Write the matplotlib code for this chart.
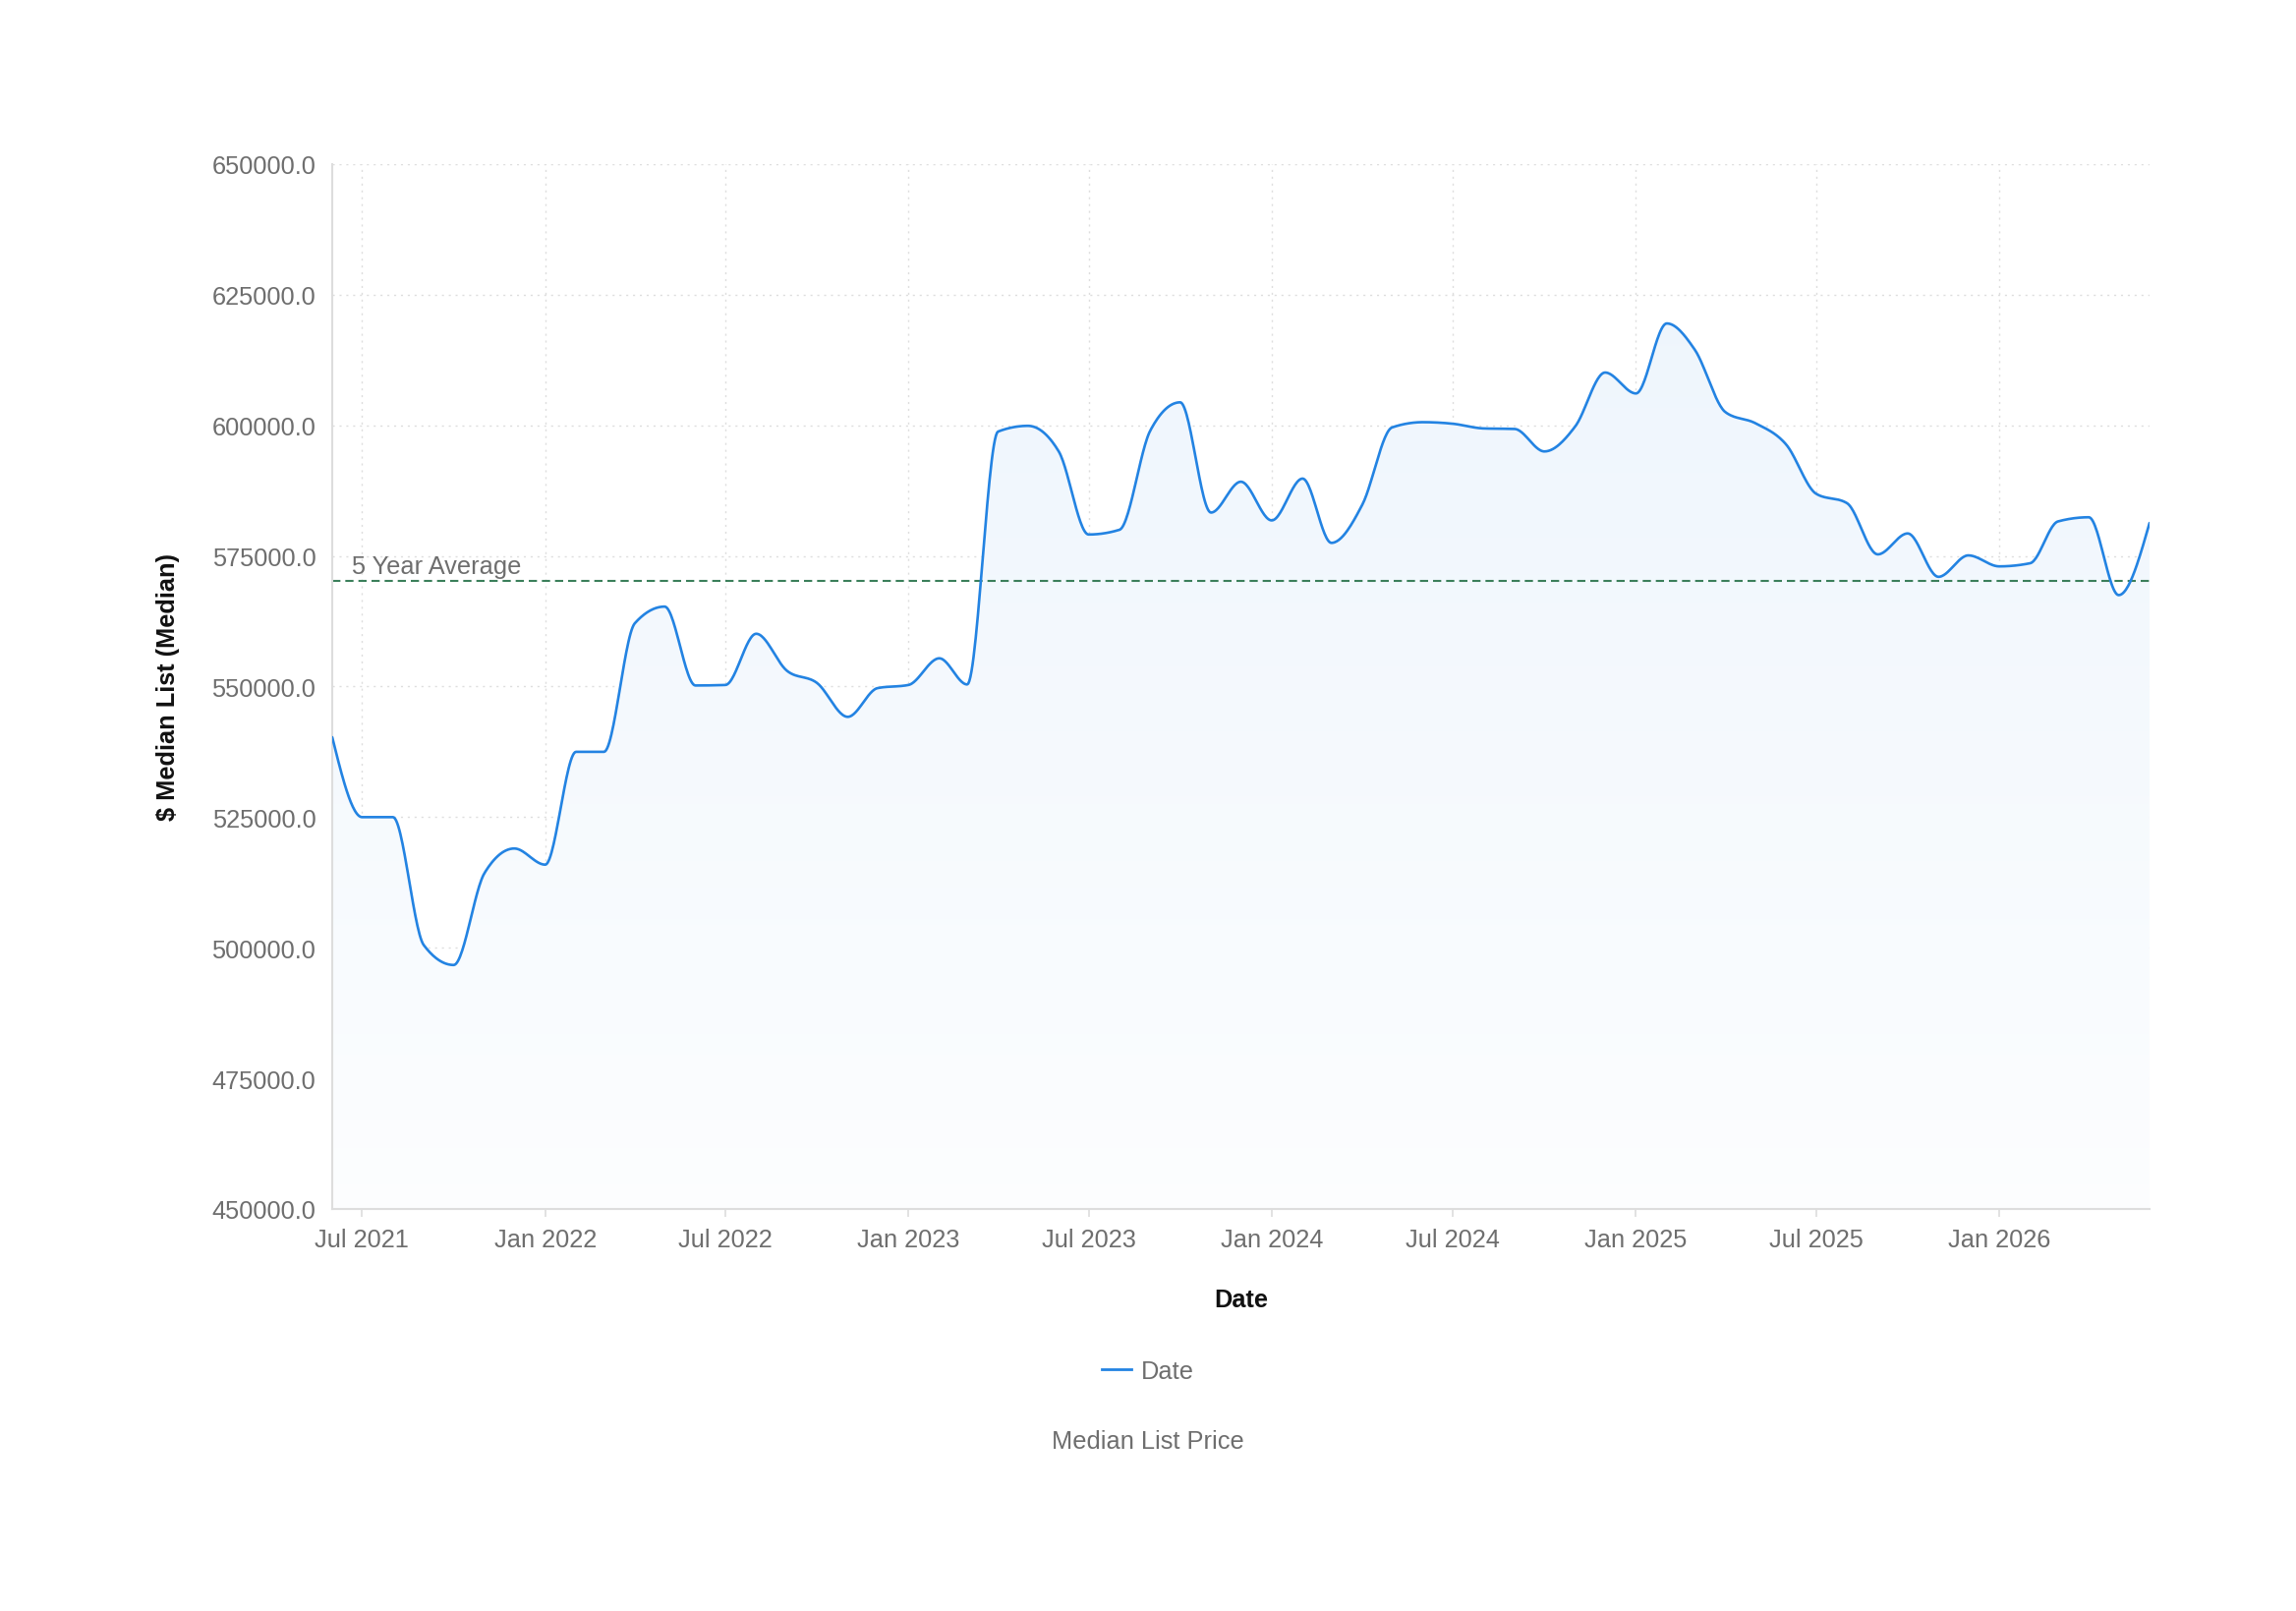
import numpy as np
import datetime as dt
import matplotlib
matplotlib.use("Agg")
import matplotlib.pyplot as plt
import matplotlib.dates as mdates
from matplotlib.ticker import FormatStrFormatter
from matplotlib.patches import Polygon
from matplotlib.lines import Line2D
from matplotlib.colors import to_rgb

plt.rcParams['font.family'] = ['Liberation Sans', 'DejaVu Sans']

# monthly median list price, Jun 2021 .. Jun 2026
start_year, start_month = 2021, 6
prices = [
    540300, 525000, 525000, 500500, 496700, 514300, 519000,                          # 2021
    515900, 537500, 537500, 562100, 565300, 550200, 550300, 560100, 553000, 550700, 544200, 549700,  # 2022
    550300, 555400, 550400, 598800, 599900, 595000, 579100, 580000, 599000, 604400, 583300, 589200,  # 2023
    581800, 589800, 577500, 584800, 599600, 600600, 600300, 599400, 599300, 595000, 599800, 610100,  # 2024
    606100, 619500, 614500, 602500, 600400, 596300, 586900, 585100, 575300, 579300, 571000, 575100,  # 2025
    573000, 573600, 581600, 582400, 567500, 581300,                                  # 2026
]
avg_value = 570200
avg_label = "5 Year Average"
y_ticks = [450000, 475000, 500000, 525000, 550000, 575000, 600000, 625000, 650000]

dates = []
for i in range(len(prices)):
    m = start_month - 1 + i
    dates.append(dt.date(start_year + m // 12, m % 12 + 1, 1))

line_col = '#2383e2'
gray = '#6e6e6e'
fs = 18.3


def monotone_x(xs, ys, n=30):
    # same curve d3 draws with curveMonotoneX
    xs = np.asarray(xs, float)
    ys = np.asarray(ys, float)
    h = np.diff(xs)
    s = np.diff(ys) / h
    t = np.zeros(len(xs))
    for i in range(1, len(xs) - 1):
        h0, h1, s0, s1 = h[i-1], h[i], s[i-1], s[i]
        p = (s0 * h1 + s1 * h0) / (h0 + h1)
        sg = (-1 if s0 < 0 else 1) + (-1 if s1 < 0 else 1)
        t[i] = sg * min(abs(s0), abs(s1), 0.5 * abs(p))
    t[0] = (3 * s[0] - t[1]) / 2
    t[-1] = (3 * s[-1] - t[-2]) / 2
    u = np.linspace(0, 1, n)
    cx, cy = [], []
    for i in range(len(xs) - 1):
        dx = h[i] / 3
        px = [xs[i], xs[i] + dx, xs[i+1] - dx, xs[i+1]]
        py = [ys[i], ys[i] + dx * t[i], ys[i+1] - dx * t[i+1], ys[i+1]]
        b = [(1-u)**3, 3*(1-u)**2*u, 3*(1-u)*u**2, u**3]
        cx.extend(sum(b[k] * px[k] for k in range(4)))
        cy.extend(sum(b[k] * py[k] for k in range(4)))
    return np.array(cx), np.array(cy)


fig = plt.figure(figsize=(23.36, 16.4), dpi=100)
ax = fig.add_axes([0.1447, 0.2494, 0.7915, 0.6482])

xnum = mdates.date2num(dates)
cx, cy = monotone_x(xnum, prices)

ymin, ymax = y_ticks[0], y_ticks[-1]

# gradient area under the curve
verts = [(cx[0], ymin)] + list(zip(cx, cy)) + [(cx[-1], ymin)]
poly = Polygon(verts, closed=True, facecolor='none', edgecolor='none')
ax.add_patch(poly)
rgb = np.array(to_rgb(line_col))
alphas = np.linspace(0.075, 0.012, 256)
grad = np.ones((256, 2, 3))
for k, a in enumerate(alphas):
    grad[k, :, :] = 1 - a + a * rgb
top = 622000
im = ax.imshow(grad, extent=[cx[0], cx[-1], ymin, top], origin='upper',
               aspect='auto', zorder=1, interpolation='bilinear')
im.set_clip_path(poly)

ax.plot(cx, cy, color=line_col, lw=1.9, zorder=3, solid_capstyle='round')

# 5 year average
ax.axhline(avg_value, color='#3b7f5b', lw=1.5, dashes=(4, 2.4), zorder=2)
ax.annotate(avg_label, xy=(0.0106, avg_value), xycoords=('axes fraction', 'data'),
            xytext=(0, 2), textcoords='offset points', ha='left', va='bottom',
            fontsize=fs, color=gray, zorder=4)

ax.set_xlim(xnum[0], xnum[-1])
ax.set_ylim(ymin, ymax)
ax.set_yticks(y_ticks)
ax.yaxis.set_major_formatter(FormatStrFormatter('%.1f'))

ax.xaxis.set_major_locator(mdates.MonthLocator(bymonth=[1, 7]))
ax.xaxis.set_major_formatter(mdates.DateFormatter('%b %Y'))

ax.grid(True, color='#dedede', lw=1.0, linestyle=(0, (1.5, 3.5)), zorder=0)
ax.set_axisbelow(True)

for side in ['top', 'right']:
    ax.spines[side].set_visible(False)
for side in ['left', 'bottom']:
    ax.spines[side].set_color('#dddddd')
    ax.spines[side].set_linewidth(1.5)

ax.tick_params(axis='y', length=0, pad=12, labelsize=fs, labelcolor=gray)
ax.tick_params(axis='x', length=6, width=1.2, color='#dddddd', pad=8,
               labelsize=fs, labelcolor=gray)

ax.set_xlabel('Date', fontsize=fs, fontweight='bold', color='#111111', va='center')
ax.xaxis.set_label_coords(0.5, -0.0866)
ax.set_ylabel('$ Median List (Median)', fontsize=fs, fontweight='bold',
              color='#111111', va='center')
ax.yaxis.set_label_coords(-0.0903, 0.5)

handle = Line2D([0], [0], color=line_col, lw=2)
fig.legend([handle], ['Date'], loc='center', bbox_to_anchor=(0.5, 0.1488),
           frameon=False, fontsize=fs, labelcolor=gray,
           handlelength=1.2, handletextpad=0.4)

fig.text(0.5, 0.1055, 'Median List Price', ha='center', va='center',
         fontsize=fs, color=gray)

fig.savefig('out.png', dpi=100, facecolor='white')
